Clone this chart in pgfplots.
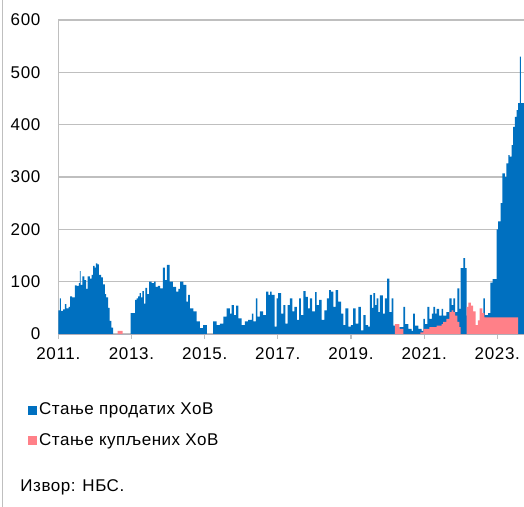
\documentclass[border=0pt]{standalone}
\usepackage{fontspec}
\setmainfont{Liberation Sans}
\usepackage{pgfplots}
\pgfplotsset{compat=1.18}
\usetikzlibrary{calc}

\definecolor{sold}{RGB}{0,112,192}
\definecolor{bought}{RGB}{255,128,136}
\definecolor{gridgray}{RGB}{191,191,191}

\begin{document}
\fontsize{17bp}{20bp}\selectfont
\begin{tikzpicture}
\begin{axis}[
    scale only axis,
    width=465.7bp, height=314bp,
    xmin=2011, xmax=2023.73,
    ymin=0, ymax=600,
    ytick={0,100,...,600},
    xtick={2011,2013,...,2023},
    xticklabels={2011.,2013.,2015.,2017.,2019.,2021.,2023.},
    axis x line*=bottom, axis y line*=left,
    axis line style={gridgray, line width=1.2bp, -},
    ymajorgrids,
    grid style={gridgray, line width=1.2bp},
    tick align=outside, major tick length=5bp,
    x tick style={gridgray, line width=1.2bp},
    y tick style={draw=none},
    tick label style={font=\fontsize{17bp}{20bp}\selectfont\addfontfeature{LetterSpace=4}, /pgf/number format/assume math mode=true},
    yticklabel style={xshift=-7bp},
    xticklabel style={yshift=-3bp},
    clip=true,
    legend style={at={(rel axis cs:-0.065,-0.212)}, anchor=north west, draw=none, fill=none,
        legend cell align=left, row sep=12bp, inner sep=0pt,
        font=\fontsize{17bp}{20bp}\selectfont\addfontfeature{LetterSpace=3}},
    legend image code/.code={\fill[#1] (0bp,-5bp) rectangle (9bp,4bp);},
]
% stanje prodatih HoV
\addplot[const plot, fill=sold, draw=none] coordinates {
(2011.00,45) (2011.04,68) (2011.07,44) (2011.13,47) (2011.18,57) (2011.22,49) (2011.28,52)
(2011.32,72) (2011.38,70) (2011.45,93) (2011.50,92) (2011.56,97) (2011.59,120) (2011.61,94)
(2011.66,110) (2011.71,103) (2011.76,86) (2011.80,110) (2011.86,106) (2011.91,113) (2011.95,130)
(2011.99,127) (2012.03,135) (2012.07,133) (2012.11,113) (2012.17,108) (2012.22,95) (2012.27,76)
(2012.31,70) (2012.36,50) (2012.40,25) (2012.45,12) (2012.50,0)
(2012.98,40) (2013.06,40) (2013.10,65) (2013.14,68) (2013.18,72) (2013.22,78) (2013.26,70)
(2013.30,82) (2013.34,58) (2013.38,88) (2013.43,76) (2013.48,100) (2013.55,97) (2013.62,100)
(2013.66,90) (2013.72,92) (2013.78,87) (2013.86,127) (2013.91,103) (2013.97,132) (2014.04,100)
(2014.13,90) (2014.22,81) (2014.28,86) (2014.33,100) (2014.42,94) (2014.50,62) (2014.55,75)
(2014.60,49) (2014.69,43) (2014.78,24) (2014.87,11) (2014.96,17) (2015.06,0)
(2015.23,24) (2015.33,17) (2015.42,20) (2015.51,33) (2015.60,49) (2015.69,39) (2015.74,55)
(2015.80,36) (2015.86,54) (2015.92,30) (2016.01,17) (2016.10,24) (2016.19,27) (2016.29,39)
(2016.33,24) (2016.40,68) (2016.44,33) (2016.51,43) (2016.60,36) (2016.68,81) (2016.74,75)
(2016.79,81) (2016.83,75) (2016.91,14) (2016.97,68) (2017.01,78) (2017.09,39) (2017.15,55)
(2017.21,20) (2017.27,55) (2017.33,68) (2017.40,43) (2017.45,52) (2017.52,27) (2017.58,68)
(2017.63,36) (2017.70,82) (2017.76,71) (2017.82,49) (2017.88,68) (2017.94,43) (2018.02,80)
(2018.06,55) (2018.13,65) (2018.20,27) (2018.27,45) (2018.34,68) (2018.40,84) (2018.45,81)
(2018.52,52) (2018.58,84) (2018.65,62) (2018.73,39) (2018.79,17) (2018.85,49) (2018.93,14)
(2019.00,17) (2019.06,49) (2019.13,20) (2019.20,52) (2019.27,7) (2019.34,36) (2019.40,17)
(2019.47,14) (2019.52,75) (2019.57,50) (2019.61,78) (2019.66,55) (2019.70,68) (2019.75,42)
(2019.79,74) (2019.87,39) (2019.93,68) (2019.99,106) (2020.05,42) (2020.11,68) (2020.16,16)
(2020.20,5) (2020.32,13) (2020.43,52) (2020.48,19) (2020.57,10) (2020.66,6) (2020.70,39)
(2020.75,16) (2020.84,10) (2020.93,6) (2020.98,29) (2021.02,19) (2021.09,52) (2021.14,29)
(2021.21,39) (2021.25,52) (2021.30,39) (2021.34,48) (2021.41,35) (2021.48,48) (2021.52,35)
(2021.61,42) (2021.69,68) (2021.75,55) (2021.80,68) (2021.85,42) (2021.91,87) (2021.96,48)
(2022.00,126) (2022.07,145) (2022.12,126) (2022.16,35) (2022.21,15) (2022.59,40) (2022.62,68)
(2022.66,36) (2022.75,40) (2022.81,98) (2022.87,105) (2022.98,200) (2023.02,215) (2023.09,250)
(2023.14,307) (2023.21,300) (2023.25,326) (2023.30,342) (2023.34,339) (2023.39,361) (2023.43,396)
(2023.48,415) (2023.53,428) (2023.57,441) (2023.62,530) (2023.645,441) (2023.75,441)
} \closedcycle;
\addlegendentry{Стање продатих ХоВ}
% stanje kupljenih HoV
\addplot[const plot, fill=bought, draw=none] coordinates {
(2011.00,0) (2012.62,6) (2012.76,0) (2020.17,0) (2020.20,19) (2020.32,10) (2020.43,0)
(2020.90,3) (2020.98,10) (2021.14,13) (2021.34,16) (2021.48,19) (2021.52,23) (2021.61,29)
(2021.69,42) (2021.75,45) (2021.80,42) (2021.85,35) (2021.91,23) (2021.96,13) (2022.00,0)
(2022.16,52) (2022.21,60) (2022.28,54) (2022.34,43) (2022.41,17) (2022.47,26) (2022.52,49)
(2022.59,40) (2022.65,32) (2023.57,0) (2023.75,0)
} \closedcycle;
\addlegendentry{Стање купљених ХоВ}
\coordinate (O) at (rel axis cs:0,0);
\end{axis}
\node[anchor=west, inner sep=0pt, font=\addfontfeature{LetterSpace=3}] at ($(O)+(-38bp,-153bp)$) {Извор: НБС.};
\draw[gridgray, line width=1.5bp] ($(O)+(-56bp,-173bp)$) -- ($(O)+(-56bp,334bp)$);
\pgfresetboundingbox
\path[use as bounding box] ($(O)+(-58.3bp,-173bp)$) rectangle ($(O)+(465.7bp,334bp)$);
\end{tikzpicture}
\end{document}
